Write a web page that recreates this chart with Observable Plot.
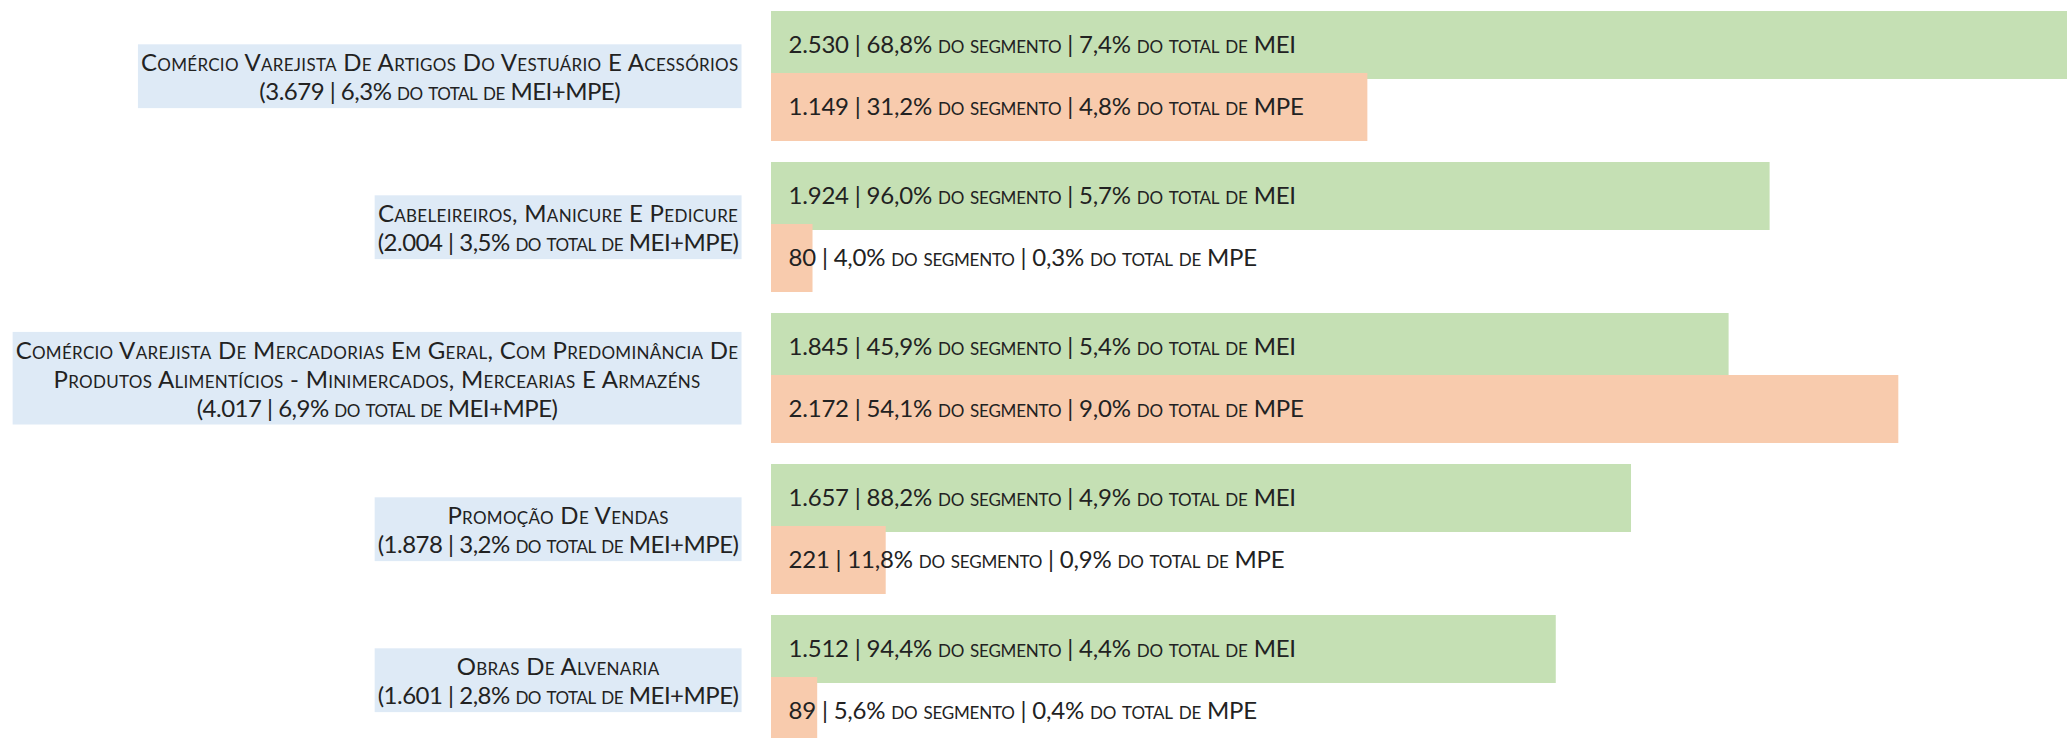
<!DOCTYPE html>
<html>
<head>
<meta charset="utf-8">
<script src="https://cdn.jsdelivr.net/npm/d3@7"></script>
<script src="https://cdn.jsdelivr.net/npm/@observablehq/plot@0.6"></script>
<style>
  html, body { margin: 0; padding: 0; background: #fff; overflow: hidden; }
  #chart svg { display: block; overflow: hidden; }
  #chart text { font-variant: small-caps; }
  #chart g[aria-description="bar-label"] text { letter-spacing: -0.2px; }
  #chart g[aria-description="category-label"] text { letter-spacing: 0.3px; }
  #chart g[aria-description="category-label"] text tspan:last-child { letter-spacing: -0.5px; }
</style>
</head>
<body>
<div id="chart"></div>
<script>
// ---- data ----
const categories = [
  "Comércio Varejista De Artigos Do Vestuário E Acessórios",
  "Cabeleireiros, Manicure E Pedicure",
  "Comércio Varejista De Mercadorias Em Geral, Com Predominância De\nProdutos Alimentícios - Minimercados, Mercearias E Armazéns",
  "Promoção De Vendas",
  "Obras De Alvenaria"
];
const totals = [3679, 2004, 4017, 1878, 1601];
const totalPct = [6.3, 3.5, 6.9, 3.2, 2.8];
const meiValues = [2530, 1924, 1845, 1657, 1512];
const meiSegPct = [68.8, 96.0, 45.9, 88.2, 94.4];
const meiTotPct = [7.4, 5.7, 5.4, 4.9, 4.4];
const mpeValues = [1149, 80, 2172, 221, 89];
const mpeSegPct = [31.2, 4.0, 54.1, 11.8, 5.6];
const mpeTotPct = [4.8, 0.3, 9.0, 0.9, 0.4];

// ---- formatting ----
const loc = d3.formatLocale({decimal: ",", thousands: ".", grouping: [3], currency: ["R$", ""]});
const fInt = loc.format(",d");
const fPct = v => loc.format(".1f")(v) + "%";

const mei = categories.map((c, i) => ({
  cat: c, value: meiValues[i],
  label: `${fInt(meiValues[i])} | ${fPct(meiSegPct[i])} do segmento | ${fPct(meiTotPct[i])} do total de MEI`
}));
const mpe = categories.map((c, i) => ({
  cat: c, value: mpeValues[i],
  label: `${fInt(mpeValues[i])} | ${fPct(mpeSegPct[i])} do segmento | ${fPct(mpeTotPct[i])} do total de MPE`
}));
const cats = categories.map((c, i) => ({
  cat: c,
  label: `${c}\n(${fInt(totals[i])} | ${fPct(totalPct[i])} do total de MEI+MPE)`
}));

const FONT = "Lato, 'Open Sans', sans-serif";
const FS = 24;
const TEXT = "#222222";

const chart = Plot.plot({
  width: 2067,
  height: 738,
  marginLeft: 771,
  marginRight: 0,
  marginTop: 0,
  marginBottom: 0,
  style: {fontFamily: FONT, fontSize: FS + "px", color: TEXT, background: "#fff"},
  x: {domain: [0, 2497], clamp: true, axis: null},
  y: {domain: categories, range: [10.5, 746.2], paddingInner: 0.1375, paddingOuter: 0, axis: null},
  marks: [
    Plot.barX(mei, {y: "cat", x: "value", fill: "#C5E0B4", insetTop: 0, insetBottom: 62}),
    Plot.barX(mpe, {y: "cat", x: "value", fill: "#F8CBAD", insetTop: 62, insetBottom: 0}),
    Plot.text(mei, {y: "cat", x: 0, text: "label", textAnchor: "start", dx: 17, dy: -31, fill: TEXT, fontSize: FS, ariaDescription: "bar-label"}),
    Plot.text(mpe, {y: "cat", x: 0, text: "label", textAnchor: "start", dx: 17, dy: 31, fill: TEXT, fontSize: FS, ariaDescription: "bar-label"}),
    Plot.text(cats, {y: "cat", x: 0, text: "label", textAnchor: "end", lineAnchor: "middle", lineHeight: 1.2,
      dx: -33, fill: TEXT, fontSize: FS, ariaDescription: "category-label"})
  ]
});
document.getElementById("chart").appendChild(chart);

// center each label's lines on a block right-aligned at the labels' anchor, add background box
const svgNS = "http://www.w3.org/2000/svg";
const labelGroup = chart.querySelector('g[aria-description="category-label"]') ||
  Array.from(chart.querySelectorAll('g[aria-label="text"]')).pop();
labelGroup.querySelectorAll("text").forEach(t => {
  const tspans = t.querySelectorAll("tspan");
  let maxW = 0;
  tspans.forEach(s => { maxW = Math.max(maxW, s.getComputedTextLength()); });
  if (tspans.length === 0) maxW = t.getComputedTextLength();
  t.setAttribute("text-anchor", "middle");
  if (tspans.length) tspans.forEach(s => s.setAttribute("x", -maxW / 2));
  else t.setAttribute("x", -maxW / 2);
  const bb = t.getBBox();
  const r = document.createElementNS(svgNS, "rect");
  const padX = 3, padTop = 3, padBottom = 3;
  r.setAttribute("x", bb.x - padX);
  r.setAttribute("y", bb.y - padTop);
  r.setAttribute("width", bb.width + 2 * padX);
  r.setAttribute("height", bb.height + padTop + padBottom);
  r.setAttribute("fill", "#DEEAF6");
  const tr = t.getAttribute("transform");
  if (tr) r.setAttribute("transform", tr);
  t.parentNode.insertBefore(r, t);
});
</script>
</body>
</html>
